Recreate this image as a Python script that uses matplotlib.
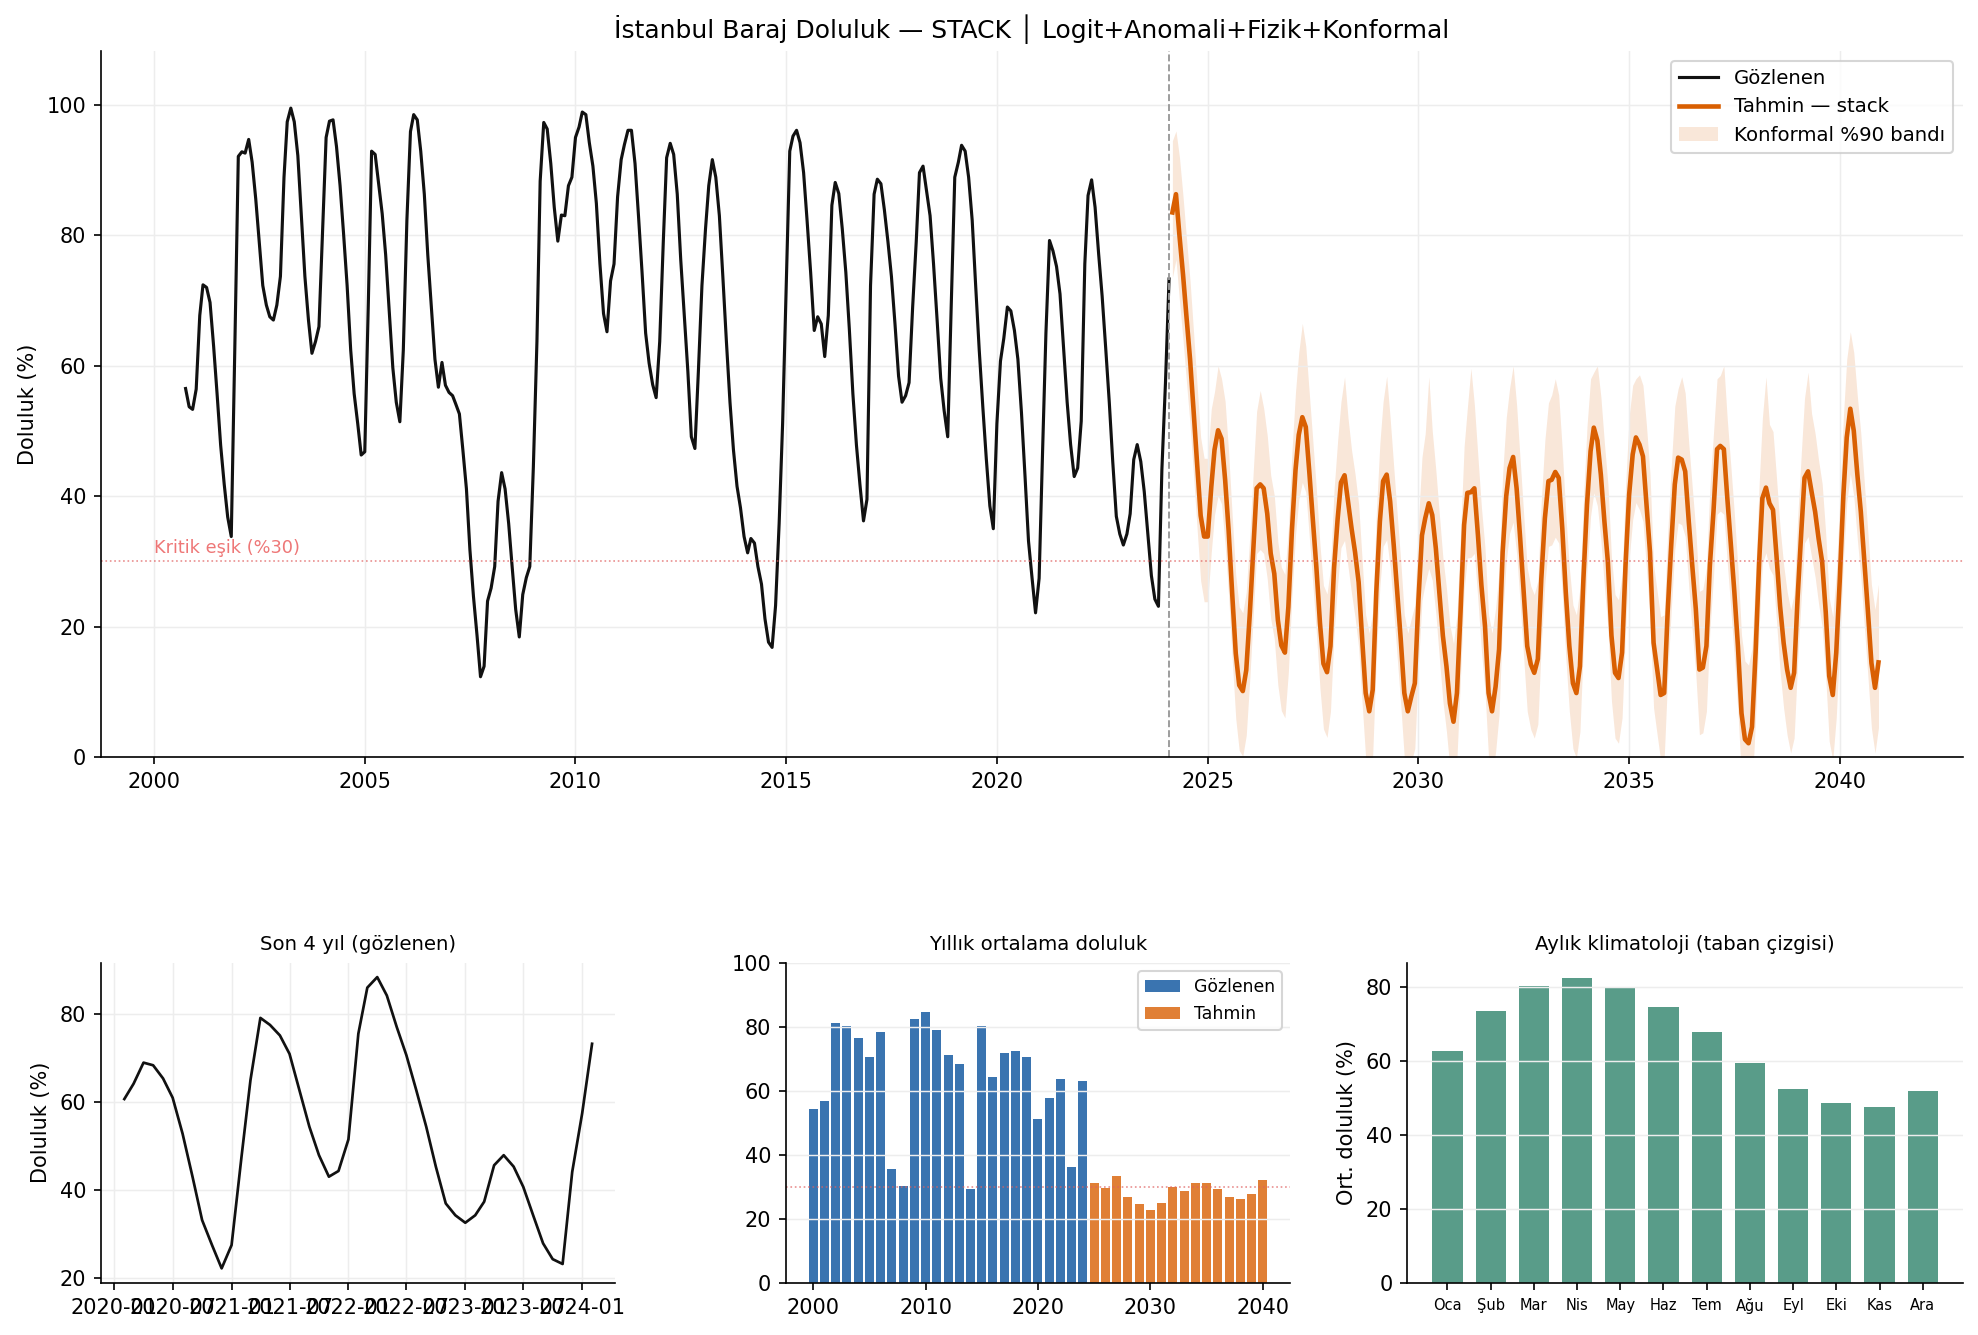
import matplotlib
matplotlib.use("Agg")
import matplotlib.pyplot as plt
import matplotlib.dates as mdates
from matplotlib.patches import Patch
from matplotlib.lines import Line2D
import pandas as pd

# observed monthly fill (%), Oct 2000 .. Feb 2024
obs_values = [
    56.5, 53.7, 53.3,
    56.4, 67.7, 72.4, 72.0, 69.7, 63.0, 55.7, 47.8, 41.8, 36.8, 33.8, 62.0,
    92.1, 92.8, 92.6, 94.7, 91.2, 85.6, 79.0, 72.3, 69.3, 67.5, 67.0, 69.3,
    73.7, 88.9, 97.4, 99.5, 97.4, 92.2, 83.0, 73.7, 67.0, 61.9, 63.7, 66.0,
    80.3, 95.0, 97.5, 97.7, 93.6, 87.6, 80.3, 72.3, 62.4, 55.7, 51.1, 46.3,
    46.8, 69.7, 92.9, 92.4, 87.9, 83.3, 77.0, 68.3, 59.7, 54.4, 51.4, 62.4,
    82.3, 95.9, 98.5, 97.7, 92.9, 86.3, 77.0, 69.0, 61.0, 56.7, 60.5, 57.0,
    55.9, 55.4, 54.1, 52.6, 47.1, 41.1, 31.8, 24.6, 18.6, 12.3, 13.9, 23.9,
    25.9, 29.2, 39.2, 43.6, 41.1, 35.8, 29.2, 22.6, 18.4, 24.9, 27.5, 29.2,
    44.5, 63.7, 88.3, 97.3, 96.3, 91.0, 84.3, 79.1, 83.1, 83.0, 87.6, 88.9,
    95.0, 96.6, 98.9, 98.5, 94.2, 90.6, 84.9, 75.6, 68.0, 65.2, 73.0, 75.6,
    85.9, 91.6, 93.9, 96.1, 96.1, 91.0, 83.0, 74.3, 65.0, 60.4, 57.1, 55.1,
    63.7, 79.0, 91.9, 94.1, 92.4, 86.3, 76.3, 67.7, 59.1, 49.1, 47.3, 59.1,
    72.3, 81.0, 87.6, 91.6, 88.9, 83.0, 73.7, 63.7, 54.4, 47.1, 41.5, 38.2,
    33.8, 31.3, 33.5, 32.8, 29.2, 26.5, 21.2, 17.6, 16.8, 23.2, 35.8, 51.1,
    72.3, 92.9, 95.2, 96.1, 94.2, 89.6, 82.3, 74.3, 65.4, 67.5, 66.4, 61.4,
    67.7, 84.6, 88.1, 86.4, 81.0, 74.3, 65.7, 55.7, 47.8, 41.8, 36.2, 39.5,
    72.3, 86.3, 88.6, 87.9, 83.9, 79.0, 73.7, 66.4, 58.4, 54.4, 55.4, 57.4,
    69.0, 79.0, 89.6, 90.6, 86.9, 83.0, 75.6, 67.0, 58.1, 53.1, 49.1, 69.0,
    88.9, 91.2, 93.8, 92.9, 88.9, 82.3, 72.3, 62.4, 53.7, 45.8, 38.5, 35.0,
    51.1, 60.7, 64.2, 69.0, 68.4, 65.4, 61.0, 52.8, 43.0, 33.1, 27.4, 22.1,
    27.4, 47.5, 65.0, 79.2, 77.6, 75.2, 71.0, 62.7, 54.4, 47.9, 43.0, 44.3,
    51.5, 75.6, 86.1, 88.5, 84.3, 77.1, 70.7, 62.7, 54.4, 45.3, 36.9, 34.2,
    32.5, 34.2, 37.3, 45.6, 47.9, 45.3, 40.7, 34.2, 27.8, 24.2, 23.1, 44.1,
    57.4, 73.3,
]
obs_start = "2000-10-01"

# stack forecast (%), Mar 2024 .. Dec 2040
fc_values = [
    83.5, 86.3, 80.0, 74.0, 67.5, 61.0, 53.0, 45.0, 37.0, 33.8,
    33.8, 41.4, 47.1, 50.1, 48.8, 42.5, 34.8, 25.1, 15.9, 11.0, 10.1, 13.3,
    22.0, 32.2, 41.2, 41.8, 41.2, 37.3, 31.2, 28.1, 21.0, 17.1, 16.0, 23.0,
    34.8, 44.0, 49.4, 52.1, 50.6, 43.6, 36.5, 29.0, 20.5, 14.3, 13.0, 17.0,
    29.0, 36.5, 42.1, 43.2, 39.2, 35.0, 31.4, 26.8, 18.0, 9.8, 7.0, 10.3,
    25.3, 36.1, 42.3, 43.3, 39.2, 32.5, 25.3, 18.0, 9.8, 7.0, 9.3, 11.3,
    24.0, 34.0, 36.6, 38.9, 37.1, 32.0, 25.3, 18.6, 13.9, 8.2, 5.4, 9.8,
    22.2, 35.6, 40.5, 40.6, 41.2, 34.0, 26.3, 20.1, 9.8, 7.0, 10.8, 16.5,
    31.4, 40.0, 44.3, 46.0, 41.2, 33.5, 25.3, 17.0, 14.2, 12.9, 15.0, 27.3,
    36.6, 42.3, 42.5, 43.7, 42.8, 35.0, 25.3, 17.0, 11.3, 9.8, 13.9, 27.3,
    38.7, 46.9, 50.5, 48.5, 43.3, 36.1, 29.9, 18.6, 12.9, 12.1, 16.0, 29.4,
    40.2, 46.4, 49.0, 47.9, 46.1, 38.7, 31.4, 17.5, 13.4, 9.5, 9.8, 22.2,
    32.5, 41.8, 45.9, 45.6, 43.8, 36.1, 29.4, 22.7, 13.4, 13.7, 17.0, 29.4,
    37.6, 47.2, 47.7, 47.2, 39.7, 32.5, 25.3, 17.0, 6.7, 2.7, 2.1, 4.6,
    16.0, 29.9, 39.7, 41.3, 38.9, 37.9, 30.9, 23.2, 17.5, 13.4, 10.6, 12.9,
    24.7, 34.5, 42.8, 43.8, 40.7, 37.6, 33.5, 29.9, 22.2, 12.4, 9.5, 16.0,
    27.3, 40.2, 49.0, 53.4, 50.0, 43.3, 37.6, 29.9, 22.2, 14.4, 10.6, 14.5,
]
fc_start = "2024-03-01"

# conformal %90 band, upper and lower edges (%)
band_hi = [
    94.5, 96.0, 92.0, 86.0, 79.5, 73.0, 65.0, 57.0, 49.0, 45.8,
    45.8, 53.4, 56.0, 60.0, 58.0, 54.5, 46.8, 37.1, 27.9, 23.0, 22.1, 25.3,
    34.0, 44.2, 53.0, 56.2, 53.5, 49.3, 43.2, 40.1, 33.0, 29.1, 28.0, 35.0,
    46.8, 56.0, 62.0, 66.5, 63.0, 55.6, 48.5, 41.0, 32.5, 26.3, 25.0, 29.0,
    41.0, 48.5, 54.5, 58.3, 52.0, 47.0, 43.4, 38.8, 30.0, 21.8, 19.0, 22.3,
    37.3, 48.1, 54.5, 58.4, 52.0, 44.5, 37.3, 30.0, 21.8, 19.0, 21.3, 23.3,
    36.0, 46.0, 49.6, 58.3, 50.0, 44.0, 37.3, 30.6, 25.9, 20.2, 17.4, 21.8,
    34.2, 47.6, 53.5, 59.6, 54.0, 46.0, 38.3, 32.1, 21.8, 19.0, 22.8, 28.5,
    43.4, 52.0, 56.5, 60.0, 54.0, 45.5, 37.3, 29.0, 26.2, 24.9, 27.0, 39.3,
    48.6, 54.3, 55.5, 58.0, 55.5, 47.0, 37.3, 29.0, 23.3, 21.8, 25.9, 39.3,
    50.7, 58.0, 59.0, 60.0, 55.3, 48.1, 41.9, 30.6, 24.9, 24.1, 28.0, 41.4,
    52.2, 57.0, 58.0, 58.6, 57.0, 50.7, 43.4, 29.5, 25.4, 21.5, 21.8, 34.2,
    44.5, 53.8, 56.5, 58.3, 55.8, 48.1, 41.4, 34.7, 25.4, 25.7, 29.0, 41.4,
    49.6, 58.0, 58.5, 60.0, 51.7, 44.5, 37.3, 29.0, 18.7, 14.7, 14.1, 16.6,
    28.0, 41.9, 52.0, 58.3, 51.0, 49.9, 42.9, 35.2, 29.5, 25.4, 22.6, 24.9,
    36.7, 46.5, 55.0, 59.0, 52.7, 49.6, 45.5, 41.9, 34.2, 24.4, 21.5, 28.0,
    39.3, 52.2, 61.0, 65.2, 62.0, 55.3, 49.6, 41.9, 34.2, 26.4, 22.6, 26.5,
]
band_lo = [
    73.5, 76.3, 70.0, 64.0, 57.5, 51.0, 43.0, 35.0, 27.0, 23.8,
    23.8, 31.4, 37.1, 40.1, 38.8, 32.5, 24.8, 15.1, 5.9, 1.0, 0.1, 3.3,
    12.0, 22.2, 31.2, 31.8, 31.2, 27.3, 21.2, 18.1, 11.0, 7.1, 6.0, 13.0,
    24.8, 34.0, 39.4, 42.1, 40.6, 33.6, 26.5, 19.0, 10.5, 4.3, 3.0, 7.0,
    19.0, 26.5, 32.1, 33.2, 29.2, 25.0, 21.4, 16.8, 8.0, -0.2, -3.0, 0.3,
    15.3, 26.1, 32.3, 33.3, 29.2, 22.5, 15.3, 8.0, -0.2, -3.0, -0.7, 1.3,
    14.0, 24.0, 26.6, 28.9, 27.1, 22.0, 15.3, 8.6, 3.9, -1.8, -4.6, -0.2,
    12.2, 25.6, 30.5, 30.6, 31.2, 24.0, 16.3, 10.1, -0.2, -3.0, 0.8, 6.5,
    21.4, 30.0, 34.3, 36.0, 31.2, 23.5, 15.3, 7.0, 4.2, 2.9, 5.0, 17.3,
    26.6, 32.3, 32.5, 33.7, 32.8, 25.0, 15.3, 7.0, 1.3, -0.2, 3.9, 17.3,
    28.7, 36.9, 40.5, 38.5, 33.3, 26.1, 19.9, 8.6, 2.9, 2.1, 6.0, 19.4,
    30.2, 36.4, 39.0, 37.9, 36.1, 28.7, 21.4, 7.5, 3.4, -0.5, -0.2, 12.2,
    22.5, 31.8, 35.9, 35.6, 33.8, 26.1, 19.4, 12.7, 3.4, 3.7, 7.0, 19.4,
    27.6, 37.2, 37.7, 37.2, 29.7, 22.5, 15.3, 7.0, -3.3, -7.3, -7.9, -5.4,
    6.0, 19.9, 29.7, 31.3, 28.9, 27.9, 20.9, 13.2, 7.5, 3.4, 0.6, 2.9,
    14.7, 24.5, 32.8, 33.8, 30.7, 27.6, 23.5, 19.9, 12.2, 2.4, -0.5, 6.0,
    17.3, 30.2, 39.0, 43.4, 40.0, 33.3, 27.6, 19.9, 12.2, 4.4, 0.6, 4.5,
]

years_obs = list(range(2000, 2025))
annual_obs = [54.2, 56.7, 81.1, 80.2, 76.5, 70.5, 78.3, 35.5, 30.4, 82.4, 84.6, 78.9, 71.1,
              68.3, 29.3, 80.2, 64.2, 71.7, 72.4, 70.5, 51.1, 57.7, 63.6, 36.1, 63.0]
years_fc = list(range(2025, 2041))
annual_fc = [31.1, 29.6, 33.3, 26.7, 24.5, 22.9, 24.8, 29.9, 28.6, 31.1, 31.1, 29.2,
             26.7, 26.1, 27.9, 32.0]

months_tr = ["Oca", "Şub", "Mar", "Nis", "May", "Haz", "Tem", "Ağu", "Eyl", "Eki", "Kas", "Ara"]
clim_values = [62.7, 73.6, 80.4, 82.5, 79.8, 74.7, 67.9, 59.5, 52.4, 48.6, 47.6, 51.9]

critical = 30.0

obs = pd.Series(obs_values, index=pd.date_range(obs_start, periods=len(obs_values), freq="MS"))
fc_idx = pd.date_range(fc_start, periods=len(fc_values), freq="MS")

c_obs = "#111111"
c_fc = "#d95f02"
grid_kw = dict(color="#ededed", linewidth=0.7)

fig = plt.figure(figsize=(13.193, 8.9), dpi=150)

ax = fig.add_axes([0.051, 0.433, 0.941, 0.529])
ax.fill_between(fc_idx, band_lo, band_hi, color=c_fc, alpha=0.15, linewidth=0)
ax.plot(obs.index, obs.values, color=c_obs, lw=1.5)
ax.plot(fc_idx, fc_values, color=c_fc, lw=2.2)
ax.axvline(obs.index[-1], color="#999999", ls="--", lw=0.9)
ax.axhline(critical, color="#e06060", ls=":", lw=0.8, alpha=0.7)
ax.text(pd.Timestamp("2000-01-01"), critical + 1.2, "Kritik eşik (%30)", color="#ee7777", fontsize=8.5)
ax.set_ylim(0, 108.3)
ax.set_ylabel("Doluluk (%)")
ax.set_title("İstanbul Baraj Doluluk — STACK │ Logit+Anomali+Fizik+Konformal", fontsize=12)
ax.grid(True, **grid_kw)
handles = [Line2D([], [], color=c_obs, lw=1.5), Line2D([], [], color=c_fc, lw=2.2),
           Patch(facecolor=c_fc, alpha=0.15, edgecolor="none")]
ax.legend(handles, ["Gözlenen", "Tahmin — stack", "Konformal %90 bandı"], loc="upper right", fontsize=9.5)
ax.xaxis.set_major_locator(mdates.YearLocator(5))
ax.xaxis.set_major_formatter(mdates.DateFormatter("%Y"))

# last 4 years
ax1 = fig.add_axes([0.051, 0.039, 0.260, 0.240])
last = obs.iloc[-49:]
ax1.plot(last.index, last.values, color=c_obs, lw=1.3)
ax1.set_title("Son 4 yıl (gözlenen)", fontsize=9.5)
ax1.set_ylabel("Doluluk (%)")
ax1.grid(True, **grid_kw)

# annual means
ax2 = fig.add_axes([0.397, 0.039, 0.255, 0.240])
ax2.bar(years_obs, annual_obs, width=0.8, color="#08519c", alpha=0.8, label="Gözlenen")
ax2.bar(years_fc, annual_fc, width=0.8, color=c_fc, alpha=0.8, label="Tahmin")
ax2.axhline(critical, color="#e06060", ls=":", lw=0.8, alpha=0.7)
ax2.set_ylim(0, 100)
ax2.set_title("Yıllık ortalama doluluk", fontsize=9.5)
ax2.grid(True, axis="y", **grid_kw)
ax2.legend(loc="upper right", fontsize=8.3)

# monthly climatology
ax3 = fig.add_axes([0.711, 0.039, 0.281, 0.240])
ax3.bar(range(12), clim_values, width=0.7, color="#2a8068", alpha=0.78)
ax3.set_xticks(range(12))
ax3.set_xticklabels(months_tr, fontsize=7)
ax3.set_ylabel("Ort. doluluk (%)")
ax3.set_title("Aylık klimatoloji (taban çizgisi)", fontsize=9.5)
ax3.grid(True, axis="y", **grid_kw)

for a in (ax, ax1, ax2, ax3):
    a.spines["top"].set_visible(False)
    a.spines["right"].set_visible(False)

fig.savefig("out.png", dpi=150)
